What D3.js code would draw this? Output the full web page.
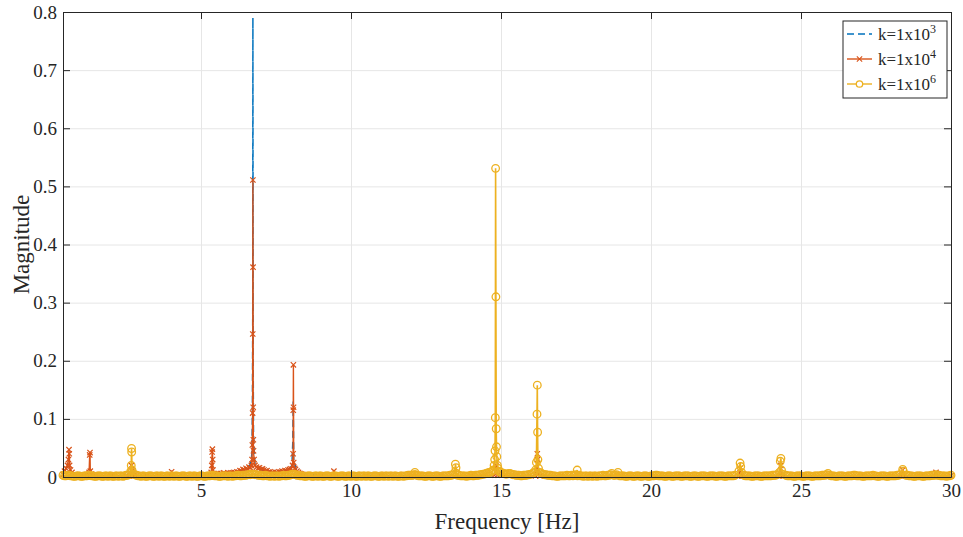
<!DOCTYPE html>
<html>
<head>
<meta charset="utf-8">
<script src="https://cdn.jsdelivr.net/npm/d3@7"></script>
<style>
  body { margin: 0; background: #fff; }
  svg text { font-family: "Liberation Serif", "DejaVu Serif", serif; }
</style>
</head>
<body>
<svg id="chart" width="963" height="537"></svg>
<script>
// Axis ticks
const xTicks = [5, 10, 15, 20, 25, 30];
const yTicks = [0, 0.1, 0.2, 0.3, 0.4, 0.5, 0.6, 0.7, 0.8];
const xDomain = [0.4, 30];
const yDomain = [0, 0.8];

// Legend entries: base text and exponent
const seriesLabels = ["k=1x10", "k=1x10", "k=1x10"];
const seriesExponents = ["3", "4", "6"];

// Spectrum, k = 1e3 : [frequency Hz, magnitude]
const k3Spectrum = [
  [0.4, 0.002], [1.5, 0.002], [3.0, 0.002], [4.5, 0.002], [5.5, 0.003], [6.0, 0.005],
  [6.4, 0.01], [6.6, 0.015], [6.68, 0.03], [6.7, 0.045], [6.715, 0.12], [6.725, 0.3],
  [6.73, 0.79], [6.738, 0.22], [6.75, 0.075], [6.77, 0.045], [6.8, 0.02], [7.0, 0.012],
  [7.5, 0.008], [7.9, 0.01], [8.03, 0.02], [8.06, 0.06], [8.075, 0.13], [8.09, 0.03],
  [8.2, 0.008], [9.0, 0.003], [12.0, 0.002], [15.0, 0.002], [20.0, 0.002], [25.0, 0.002], [30.0, 0.002]
];

// Spectrum, k = 1e4 : background level
const k4Floor = [
  [0.4, 0.004], [0.8, 0.004], [1.0, 0.003], [1.2, 0.004], [1.5, 0.003], [2.0, 0.002],
  [2.5, 0.002], [2.8, 0.003], [3.2, 0.002], [3.6, 0.002], [4.4, 0.002], [4.8, 0.002],
  [5.2, 0.003], [5.5, 0.005], [5.55, 0.006], [5.6, 0.004], [5.65, 0.006], [5.7, 0.005],
  [5.75, 0.007], [5.8, 0.006], [5.85, 0.005], [5.9, 0.007], [5.95, 0.006], [6.0, 0.007],
  [6.05, 0.006], [6.1, 0.008], [6.15, 0.007], [6.2, 0.009], [6.25, 0.008], [6.3, 0.011],
  [6.35, 0.01], [6.4, 0.013], [6.45, 0.012], [6.5, 0.015], [6.55, 0.013], [6.6, 0.017],
  [6.65, 0.016], [6.85, 0.017], [6.9, 0.015], [6.95, 0.016], [7.0, 0.013], [7.05, 0.014],
  [7.1, 0.012], [7.15, 0.01], [7.2, 0.011], [7.25, 0.008], [7.3, 0.009], [7.35, 0.007],
  [7.4, 0.008], [7.45, 0.006], [7.5, 0.008], [7.55, 0.007], [7.6, 0.009], [7.65, 0.008],
  [7.7, 0.01], [7.75, 0.009], [7.8, 0.011], [7.85, 0.01], [7.9, 0.012], [7.95, 0.013],
  [8.15, 0.013], [8.2, 0.01], [8.25, 0.008], [8.3, 0.006], [8.35, 0.005], [8.4, 0.004],
  [8.5, 0.003], [9.0, 0.002], [9.8, 0.002], [10.5, 0.001], [11.0, 0.002], [12.0, 0.001],
  [13.0, 0.002], [14.0, 0.002], [15.5, 0.002], [17.0, 0.002], [18.0, 0.001], [19.0, 0.002],
  [20.0, 0.001], [21.0, 0.002], [22.0, 0.001], [23.5, 0.002], [25.0, 0.001], [26.0, 0.002],
  [27.0, 0.001], [28.0, 0.002], [29.0, 0.001], [30.0, 0.002]
];
// Spectrum, k = 1e4 : resonance peaks
const k4Peaks = [
  [0.45, 0.01], [0.5, 0.015], [0.55, 0.02], [0.58, 0.03], [0.6, 0.047], [0.61, 0.04],
  [0.62, 0.02], [0.65, 0.012], [0.7, 0.008],
  [1.25, 0.004], [1.27, 0.008], [1.29, 0.038], [1.3, 0.042], [1.31, 0.01], [1.35, 0.005],
  [2.62, 0.002], [2.66, 0.006], [2.68, 0.02], [2.7, 0.01], [2.74, 0.002],
  [3.97, 0.002], [4.02, 0.009], [4.07, 0.002],
  [5.3, 0.003], [5.34, 0.008], [5.36, 0.02], [5.37, 0.043], [5.38, 0.048], [5.39, 0.03],
  [5.4, 0.012], [5.45, 0.006],
  [6.68, 0.02], [6.7, 0.03], [6.71, 0.055], [6.72, 0.11], [6.725, 0.246], [6.73, 0.511],
  [6.735, 0.361], [6.74, 0.12], [6.745, 0.064], [6.75, 0.045], [6.77, 0.03], [6.8, 0.02],
  [8.0, 0.014], [8.05, 0.02], [8.07, 0.04], [8.075, 0.115], [8.08, 0.193], [8.085, 0.12],
  [8.09, 0.025], [8.12, 0.015],
  [9.38, 0.002], [9.43, 0.01], [9.48, 0.002],
  [14.78, 0.003], [14.83, 0.02], [14.88, 0.003],
  [16.15, 0.002], [16.19, 0.01], [16.21, 0.04], [16.22, 0.03], [16.25, 0.005], [16.3, 0.002],
  [22.92, 0.002], [22.97, 0.015], [23.02, 0.002],
  [24.28, 0.002], [24.33, 0.02], [24.38, 0.002],
  [28.34, 0.002], [28.39, 0.012], [28.44, 0.002],
  [29.45, 0.002], [29.5, 0.008], [29.55, 0.002]
];

// Spectrum, k = 1e6 : background level (whole tenths)
const k6Floor = [
  [0.4,.003],[0.5,.002],[0.6,.003],[0.7,.002],[0.8,.001],[0.9,.002],[1.0,.001],[1.1,.002],
  [1.2,.002],[1.3,.003],[1.4,.002],[1.5,.001],[1.6,.002],[1.7,.001],[1.8,.002],[1.9,.001],
  [2.0,.002],[2.1,.001],[2.2,.002],[2.3,.002],[2.4,.001],[2.5,.003],[2.6,.004],[2.8,.004],
  [2.9,.002],[3.0,.001],[3.1,.002],[3.2,.001],[3.3,.002],[3.4,.001],[3.5,.002],[3.6,.001],
  [3.7,.002],[3.8,.001],[3.9,.002],[4.0,.002],[4.1,.001],[4.2,.002],[4.3,.001],[4.4,.002],
  [4.5,.001],[4.6,.002],[4.7,.001],[4.8,.002],[4.9,.001],[5.0,.002],[5.1,.001],[5.2,.002],
  [5.3,.002],[5.4,.003],[5.5,.002],[5.6,.001],[5.7,.002],[5.8,.002],[5.9,.001],[6.0,.002],
  [6.1,.002],[6.2,.003],[6.3,.002],[6.4,.003],[6.5,.003],[6.6,.004],[6.7,.005],[6.8,.004],
  [6.9,.003],[7.0,.003],[7.1,.002],[7.2,.002],[7.3,.001],[7.4,.002],[7.5,.002],[7.6,.001],
  [7.7,.002],[7.8,.002],[7.9,.003],[8.0,.004],[8.1,.005],[8.2,.003],[8.3,.002],[8.4,.002],
  [8.5,.001],[8.6,.002],[8.7,.001],[8.8,.002],[8.9,.001],[9.0,.002],[9.1,.001],[9.2,.002],
  [9.3,.001],[9.4,.002],[9.5,.002],[9.6,.001],[9.7,.002],[9.8,.001],[9.9,.002],[10.0,.001],
  [10.1,.002],[10.2,.001],[10.3,.002],[10.4,.002],[10.5,.001],[10.6,.002],[10.7,.001],[10.8,.002],
  [10.9,.001],[11.0,.002],[11.1,.001],[11.2,.002],[11.3,.002],[11.4,.001],[11.5,.002],[11.6,.001],
  [11.7,.002],[11.8,.002],[11.9,.003],[12.0,.003],[12.1,.004],[12.2,.003],[12.3,.002],[12.4,.002],
  [12.5,.001],[12.6,.002],[12.7,.001],[12.8,.002],[12.9,.002],[13.0,.001],[13.1,.002],[13.2,.002],
  [13.3,.003],[13.4,.004],[13.6,.003],[13.7,.002],[13.8,.002],[13.9,.002],[14.0,.003],[14.1,.002],
  [14.2,.003],[14.3,.004],[14.4,.005],[14.5,.006],[14.6,.008],[15.0,.008],[15.1,.006],[15.2,.005],
  [15.3,.006],[15.4,.004],[15.5,.003],[15.6,.003],[15.7,.002],[15.8,.003],[15.9,.004],[16.0,.005],
  [16.4,.005],[16.5,.004],[16.6,.003],[16.7,.002],[16.8,.002],[16.9,.001],[17.0,.002],[17.1,.002],
  [17.2,.003],[17.3,.002],[17.4,.002],[17.5,.004],[17.6,.003],[17.7,.002],[17.8,.002],[17.9,.001],
  [18.0,.002],[18.1,.002],[18.2,.001],[18.3,.002],[18.4,.003],[18.5,.002],[18.6,.003],[18.8,.003],
  [19.0,.002],[19.1,.002],[19.2,.001],[19.3,.002],[19.4,.001],[19.5,.002],[19.6,.002],[19.7,.001],
  [19.8,.002],[19.9,.001],[20.0,.002],[20.1,.002],[20.2,.003],[20.3,.002],[20.4,.002],[20.5,.001],
  [20.6,.002],[20.7,.001],[20.8,.002],[20.9,.002],[21.0,.001],[21.1,.002],[21.2,.002],[21.3,.001],
  [21.4,.002],[21.5,.002],[21.6,.001],[21.7,.002],[21.8,.002],[21.9,.001],[22.0,.002],[22.1,.002],
  [22.2,.001],[22.3,.002],[22.4,.002],[22.5,.001],[22.6,.002],[22.7,.002],[22.8,.003],[23.1,.003],
  [23.2,.002],[23.3,.002],[23.4,.001],[23.5,.002],[23.6,.002],[23.7,.001],[23.8,.002],[23.9,.002],
  [24.0,.002],[24.1,.003],[24.2,.004],[24.5,.003],[24.6,.002],[24.7,.002],[24.8,.001],[24.9,.002],
  [25.0,.002],[25.1,.001],[25.2,.002],[25.3,.002],[25.4,.001],[25.5,.002],[25.6,.002],[25.7,.003],
  [25.8,.003],[26.0,.002],[26.1,.002],[26.2,.001],[26.3,.002],[26.4,.002],[26.5,.001],[26.6,.002],
  [26.7,.002],[26.8,.003],[26.9,.002],[27.0,.002],[27.1,.001],[27.2,.002],[27.3,.002],[27.4,.003],
  [27.5,.002],[27.6,.001],[27.7,.002],[27.8,.002],[27.9,.001],[28.0,.002],[28.1,.002],[28.2,.003],
  [28.3,.004],[28.5,.003],[28.6,.002],[28.7,.002],[28.8,.001],[28.9,.002],[29.0,.002],[29.1,.001],
  [29.2,.002],[29.3,.002],[29.4,.003],[29.6,.003],[29.7,.002],[29.8,.002],[29.9,.002],[30.0,.003]
];
// Spectrum, k = 1e6 : background level (half tenths)
const k6FloorMid = [
  [0.45,.002],[0.55,.003],[0.65,.002],[0.75,.001],[0.85,.002],[0.95,.002],[1.05,.001],[1.15,.002],
  [1.25,.003],[1.35,.002],[1.45,.001],[1.55,.002],[1.65,.002],[1.75,.001],[1.85,.002],[1.95,.002],
  [2.05,.001],[2.15,.002],[2.25,.001],[2.35,.002],[2.45,.002],[2.55,.003],[2.85,.003],[2.95,.002],
  [3.05,.002],[3.15,.001],[3.25,.002],[3.35,.002],[3.45,.001],[3.55,.002],[3.65,.002],[3.75,.001],
  [3.85,.002],[3.95,.001],[4.05,.002],[4.15,.002],[4.25,.001],[4.35,.002],[4.45,.002],[4.55,.001],
  [4.65,.002],[4.75,.002],[4.85,.001],[4.95,.002],[5.05,.002],[5.15,.001],[5.25,.002],[5.35,.003],
  [5.45,.002],[5.55,.002],[5.65,.001],[5.75,.002],[5.85,.002],[5.95,.002],[6.05,.001],[6.15,.002],
  [6.25,.003],[6.35,.002],[6.45,.003],[6.55,.004],[6.65,.004],[6.75,.005],[6.85,.004],[6.95,.003],
  [7.05,.002],[7.15,.003],[7.25,.002],[7.35,.002],[7.45,.001],[7.55,.002],[7.65,.002],[7.75,.003],
  [7.85,.002],[7.95,.003],[8.05,.005],[8.15,.004],[8.25,.003],[8.35,.002],[8.45,.001],[8.55,.002],
  [8.65,.002],[8.75,.001],[8.85,.002],[8.95,.002],[9.05,.001],[9.15,.002],[9.25,.002],[9.35,.001],
  [9.45,.002],[9.55,.001],[9.65,.002],[9.75,.002],[9.85,.001],[9.95,.002],[10.05,.002],[10.15,.001],
  [10.25,.002],[10.35,.001],[10.45,.002],[10.55,.002],[10.65,.001],[10.75,.002],[10.85,.002],[10.95,.001],
  [11.05,.002],[11.15,.002],[11.25,.001],[11.35,.002],[11.45,.002],[11.55,.001],[11.65,.002],[11.75,.001],
  [11.85,.002],[11.95,.003],[12.05,.003],[12.15,.004],[12.25,.002],[12.35,.002],[12.45,.001],[12.55,.002],
  [12.65,.002],[12.75,.001],[12.85,.002],[12.95,.001],[13.05,.002],[13.15,.002],[13.25,.002],[13.35,.003],
  [13.55,.003],[13.65,.002],[13.75,.002],[13.85,.001],[13.95,.002],[14.05,.002],[14.15,.003],[14.25,.003],
  [14.35,.004],[14.45,.005],[14.55,.007],[14.65,.008],[14.95,.009],[15.05,.007],[15.15,.005],[15.25,.006],
  [15.35,.005],[15.45,.004],[15.55,.003],[15.65,.002],[15.75,.003],[15.85,.003],[15.95,.004],[16.05,.006],
  [16.35,.006],[16.45,.004],[16.55,.003],[16.65,.003],[16.75,.002],[16.85,.001],[16.95,.002],[17.05,.002],
  [17.15,.002],[17.25,.002],[17.35,.003],[17.45,.003],[17.55,.002],[17.65,.002],[17.75,.001],[17.85,.002],
  [17.95,.002],[18.05,.001],[18.15,.002],[18.25,.002],[18.35,.002],[18.45,.002],[18.55,.003],[18.65,.004],
  [18.75,.003],[18.85,.004],[18.95,.002],[19.05,.002],[19.15,.001],[19.25,.002],[19.35,.002],[19.45,.001],
  [19.55,.002],[19.65,.001],[19.75,.002],[19.85,.002],[19.95,.001],[20.05,.002],[20.15,.003],[20.25,.002],
  [20.35,.002],[20.45,.001],[20.55,.002],[20.65,.002],[20.75,.001],[20.85,.002],[20.95,.002],[21.05,.001],
  [21.15,.002],[21.25,.002],[21.35,.001],[21.45,.002],[21.55,.001],[21.65,.002],[21.75,.002],[21.85,.001],
  [21.95,.002],[22.05,.002],[22.15,.001],[22.25,.002],[22.35,.002],[22.45,.001],[22.55,.002],[22.65,.002],
  [22.75,.002],[23.15,.002],[23.25,.002],[23.35,.001],[23.45,.002],[23.55,.002],[23.65,.001],[23.75,.002],
  [23.85,.002],[23.95,.002],[24.05,.003],[24.15,.003],[24.55,.002],[24.65,.002],[24.75,.001],[24.85,.002],
  [24.95,.002],[25.05,.001],[25.15,.002],[25.25,.002],[25.35,.001],[25.45,.002],[25.55,.002],[25.65,.002],
  [25.75,.003],[25.85,.004],[25.95,.003],[26.05,.002],[26.15,.001],[26.25,.002],[26.35,.002],[26.45,.001],
  [26.55,.002],[26.65,.002],[26.75,.003],[26.85,.002],[26.95,.002],[27.05,.001],[27.15,.002],[27.25,.002],
  [27.35,.002],[27.45,.002],[27.55,.001],[27.65,.002],[27.75,.002],[27.85,.001],[27.95,.002],[28.05,.002],
  [28.15,.002],[28.25,.003],[28.55,.003],[28.65,.002],[28.75,.001],[28.85,.002],[28.95,.002],[29.05,.001],
  [29.15,.002],[29.25,.002],[29.35,.003],[29.45,.003],[29.55,.003],[29.65,.002],[29.75,.002],[29.85,.001],
  [29.95,.002]
];
// Spectrum, k = 1e6 : resonance peaks
const k6Peaks = [
  [2.66, 0.01], [2.675, 0.02], [2.685, 0.049], [2.69, 0.043], [2.7, 0.012], [2.72, 0.005],
  [12.13, 0.008],
  [13.46, 0.008], [13.48, 0.022], [13.5, 0.016], [13.52, 0.006],
  [14.7, 0.01], [14.74, 0.012], [14.77, 0.02], [14.79, 0.03], [14.8, 0.045], [14.81, 0.102],
  [14.82, 0.531], [14.83, 0.31], [14.84, 0.083], [14.85, 0.052], [14.86, 0.035], [14.88, 0.02],
  [14.9, 0.015], [14.93, 0.01],
  [16.1, 0.008], [16.15, 0.012], [16.18, 0.025], [16.2, 0.108], [16.21, 0.158], [16.22, 0.077],
  [16.23, 0.03], [16.25, 0.015], [16.3, 0.008],
  [17.54, 0.012], [18.69, 0.006], [18.9, 0.008],
  [22.93, 0.01], [22.97, 0.024], [22.99, 0.018], [23.02, 0.008],
  [24.28, 0.008], [24.31, 0.027], [24.33, 0.032], [24.35, 0.012], [24.38, 0.005],
  [25.9, 0.006], [28.39, 0.013], [28.41, 0.01], [29.5, 0.004]
];

const colors = ["#0072BD", "#D95319", "#EDB120"];

const byFreq = (a, b) => a[0] - b[0];
const k4Spectrum = k4Floor.concat(k4Peaks).sort(byFreq);
const k6Spectrum = k6Floor.concat(k6FloorMid, k6Peaks).sort(byFreq);

const svg = d3.select("#chart");
const plot = { left: 63, right: 951, top: 12, bottom: 477 };

const x = d3.scaleLinear().domain(xDomain).range([plot.left, plot.right]);
const y = d3.scaleLinear().domain(yDomain).range([plot.bottom, plot.top]);

const axisColor = "#262626";
const gridColor = "#e6e6e6";
const serif = '"Liberation Serif", "DejaVu Serif", serif';

// Grid lines
svg.append("g")
  .attr("transform", `translate(0,${plot.bottom})`)
  .call(d3.axisBottom(x).tickValues(xTicks).tickSize(-(plot.bottom - plot.top)).tickFormat(""))
  .call(g => g.select(".domain").remove())
  .call(g => g.selectAll("line").attr("stroke", gridColor));
svg.append("g")
  .attr("transform", `translate(${plot.left},0)`)
  .call(d3.axisLeft(y).tickValues(yTicks).tickSize(-(plot.right - plot.left)).tickFormat(""))
  .call(g => g.select(".domain").remove())
  .call(g => g.selectAll("line").attr("stroke", gridColor));

const line = d3.line().x(d => x(d[0])).y(d => y(d[1]));

// k = 1e3 : dashed line, no markers
svg.append("path")
  .datum(k3Spectrum)
  .attr("d", line)
  .attr("fill", "none")
  .attr("stroke", colors[0])
  .attr("stroke-width", 1.5)
  .attr("stroke-dasharray", "7,4");

// k = 1e4 : solid line with x markers
svg.append("path")
  .datum(k4Spectrum)
  .attr("d", line)
  .attr("fill", "none")
  .attr("stroke", colors[1])
  .attr("stroke-width", 1.4);
const xMark = d3.symbol(d3.symbolX, 20);
svg.append("g").selectAll("path")
  .data(k4Spectrum)
  .join("path")
  .attr("d", xMark)
  .attr("transform", d => `translate(${x(d[0])},${y(d[1])})`)
  .attr("fill", "none")
  .attr("stroke", colors[1])
  .attr("stroke-width", 1.2);

// k = 1e6 : solid line with circle markers
svg.append("path")
  .datum(k6Spectrum)
  .attr("d", line)
  .attr("fill", "none")
  .attr("stroke", colors[2])
  .attr("stroke-width", 1.6);
svg.append("g").selectAll("circle")
  .data(k6Spectrum)
  .join("circle")
  .attr("cx", d => x(d[0]))
  .attr("cy", d => y(d[1]))
  .attr("r", 3.8)
  .attr("fill", "none")
  .attr("stroke", colors[2])
  .attr("stroke-width", 1.3);

// Axes (box with inward ticks)
const tickFont = g => g.selectAll("text")
  .style("font-family", serif)
  .style("font-size", "19px")
  .attr("fill", axisColor);
const styleAxis = g => {
  g.select(".domain").attr("stroke", axisColor);
  g.selectAll(".tick line").attr("stroke", axisColor);
};

svg.append("g")
  .attr("transform", `translate(0,${plot.bottom})`)
  .call(d3.axisBottom(x).tickValues(xTicks).tickSizeInner(-7).tickSizeOuter(0).tickPadding(7).tickFormat(d3.format("d")))
  .call(styleAxis).call(tickFont);
svg.append("g")
  .attr("transform", `translate(0,${plot.top})`)
  .call(d3.axisTop(x).tickValues(xTicks).tickSizeInner(-7).tickSizeOuter(0).tickFormat(""))
  .call(styleAxis);
svg.append("g")
  .attr("transform", `translate(${plot.left},0)`)
  .call(d3.axisLeft(y).tickValues(yTicks).tickSizeInner(-7).tickSizeOuter(0).tickPadding(6).tickFormat(d => d === 0 ? "0" : d3.format(".1f")(d)))
  .call(styleAxis).call(tickFont);
svg.append("g")
  .attr("transform", `translate(${plot.right},0)`)
  .call(d3.axisRight(y).tickValues(yTicks).tickSizeInner(-7).tickSizeOuter(0).tickFormat(""))
  .call(styleAxis);

// Axis titles
svg.append("text")
  .attr("x", (plot.left + plot.right) / 2)
  .attr("y", 529)
  .attr("text-anchor", "middle")
  .style("font-size", "23px")
  .attr("fill", axisColor)
  .text("Frequency [Hz]");
svg.append("text")
  .attr("transform", `translate(29,${(plot.top + plot.bottom) / 2}) rotate(-90)`)
  .attr("text-anchor", "middle")
  .style("font-size", "23px")
  .attr("fill", axisColor)
  .text("Magnitude");

// Legend
const legend = svg.append("g").attr("transform", "translate(843,21)");
legend.append("rect")
  .attr("width", 104).attr("height", 77)
  .attr("fill", "#fff").attr("stroke", axisColor).attr("stroke-width", 1);
const rowY = [13, 38, 63];
seriesLabels.forEach((label, i) => {
  const g = legend.append("g").attr("transform", `translate(0,${rowY[i]})`);
  const seg = g.append("line").attr("x1", 4).attr("x2", 29).attr("y1", 0).attr("y2", 0)
    .attr("stroke", colors[i]).attr("stroke-width", 1.4);
  if (i === 0) seg.attr("stroke-dasharray", "7,4");
  if (i === 1) g.append("path").attr("d", xMark).attr("transform", "translate(16.5,0)")
    .attr("fill", "none").attr("stroke", colors[1]).attr("stroke-width", 1.1);
  if (i === 2) g.append("circle").attr("cx", 16.5).attr("cy", 0).attr("r", 3.2)
    .attr("fill", "#fff").attr("stroke", colors[2]).attr("stroke-width", 1.3);
  const t = g.append("text").attr("x", 35).attr("y", 6)
    .style("font-size", "17px").attr("fill", axisColor);
  t.append("tspan").text(label);
  t.append("tspan").style("font-size", "12px").attr("dy", -7).text(seriesExponents[i]);
});
</script>
</body>
</html>
